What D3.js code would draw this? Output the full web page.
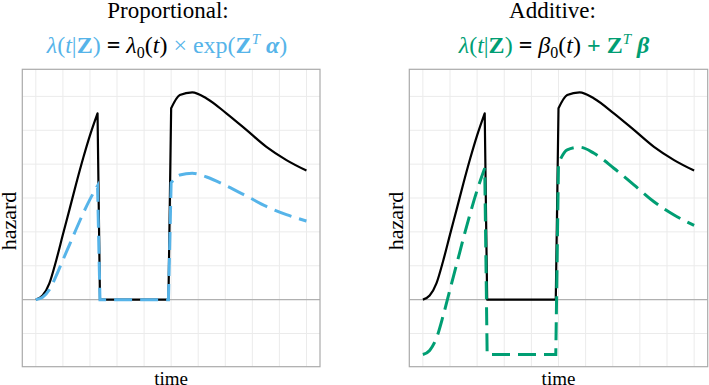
<!DOCTYPE html>
<html>
<head>
<meta charset="utf-8">
<script src="https://cdn.jsdelivr.net/npm/d3@7"></script>
<style>
  body { margin: 0; background: #fff; }
  text { font-family: "Liberation Serif", "Times New Roman", serif; }
</style>
</head>
<body>
<div id="chart"></div>
<script>
// Values (time in 0..10, hazard in grid units)
const tRise = [0, 0.25, 0.5, 0.75, 1.0, 1.25, 1.5, 1.75, 2.0, 2.28];
const baseRise = [0, 0.12, 0.48, 1.15, 1.92, 2.68, 3.45, 4.18, 4.85, 5.5];
const propRise = [0, 0.07, 0.29, 0.7, 1.17, 1.63, 2.1, 2.55, 2.96, 3.36];
const addRise = [-1.62, -1.5, -1.14, -0.47, 0.3, 1.06, 1.83, 2.56, 3.23, 3.88];

const tGap = [2.37, 4.9]; // hazard flat between these times
const baseGap = 0, propGap = 0, addGap = -1.62;

const tDecay = [5.0, 5.32, 5.78, 6.31, 7.04, 7.78, 8.52, 9.26, 10.0];
const baseDecay = [5.65, 6.04, 6.12, 5.94, 5.5, 5.01, 4.51, 4.12, 3.81];
const propDecay = [3.45, 3.68, 3.73, 3.62, 3.36, 3.06, 2.75, 2.51, 2.32];
const addDecay = [4.03, 4.42, 4.5, 4.32, 3.88, 3.39, 2.89, 2.5, 2.19];

const xTicks = [0, 1, 2, 3, 4, 5, 6, 7, 8, 9, 10];
const yTicks = [-1, 0, 1, 2, 3, 4, 5, 6];

const blue = "#56B4E9", green = "#009E73";

const W = 709, H = 385;
const panelTop = 69.3, panelBottom = 366.7;

const svg = d3.select("#chart").append("svg")
    .attr("width", W)
    .attr("height", H);

const y = d3.scaleLinear().domain([-1.98, 6.8]).range([panelBottom, panelTop]);

// builds one continuous path: smooth rise, straight drop / flat / jump, smooth decay
function hazardPath(x, rise, gapVal, decay) {
    const smooth = d3.line().x(d => x(d[0])).y(d => y(d[1])).curve(d3.curveMonotoneX);
    const straight = d3.line().x(d => x(d[0])).y(d => y(d[1]));
    const p1 = smooth(d3.zip(tRise, rise));
    const mid = [[tRise[tRise.length - 1], rise[rise.length - 1]], [tGap[0], gapVal], [tGap[1], gapVal], [tDecay[0], decay[0]]];
    const p2 = straight(mid).replace(/^M/, "L");
    const p3 = smooth(d3.zip(tDecay, decay)).replace(/^M/, "L");
    return p1 + p2 + p3;
}

function panel(opts) {
    const x = d3.scaleLinear().domain([-0.5, 10.5]).range([opts.left, opts.right]);
    const g = svg.append("g");

    // grid
    g.append("g").selectAll("line").data(xTicks).join("line")
        .attr("x1", d => x(d)).attr("x2", d => x(d))
        .attr("y1", panelTop).attr("y2", panelBottom)
        .attr("stroke", "#ebebeb").attr("stroke-width", 1);
    g.append("g").selectAll("line").data(yTicks.filter(d => d !== 0)).join("line")
        .attr("x1", opts.left).attr("x2", opts.right)
        .attr("y1", d => y(d)).attr("y2", d => y(d))
        .attr("stroke", "#ebebeb").attr("stroke-width", 1);

    // zero line
    g.append("line")
        .attr("x1", opts.left).attr("x2", opts.right)
        .attr("y1", y(0)).attr("y2", y(0))
        .attr("stroke", "#b0b0b0").attr("stroke-width", 1.3);

    // baseline hazard
    g.append("path")
        .attr("d", hazardPath(x, baseRise, baseGap, baseDecay))
        .attr("fill", "none").attr("stroke", "#000").attr("stroke-width", 2.2)
        .attr("stroke-linejoin", "round");

    // covariate hazard
    g.append("path")
        .attr("d", hazardPath(x, opts.rise, opts.gap, opts.decay))
        .attr("fill", "none").attr("stroke", opts.color).attr("stroke-width", 3)
        .attr("stroke-dasharray", "18,8");

    // border
    g.append("rect")
        .attr("x", opts.left).attr("y", panelTop)
        .attr("width", opts.right - opts.left).attr("height", panelBottom - panelTop)
        .attr("fill", "none").attr("stroke", "#aaaaaa").attr("stroke-width", 1.2);

    // axis titles
    svg.append("text")
        .attr("transform", `translate(${opts.left - 6.5},${(panelTop + panelBottom) / 2 + 3}) rotate(-90)`)
        .attr("text-anchor", "middle")
        .style("font-size", "22px")
        .text("hazard");
    svg.append("text")
        .attr("x", (opts.left + opts.right) / 2)
        .attr("y", 385)
        .attr("text-anchor", "middle")
        .style("font-size", "19px")
        .text("time");

    // title
    svg.append("text")
        .attr("x", opts.titleX).attr("y", 18)
        .attr("text-anchor", "middle")
        .style("font-size", "23px")
        .text(opts.title);

    const f = svg.append("text")
        .attr("x", opts.formulaX).attr("y", 52.5)
        .attr("text-anchor", "middle")
        .style("font-size", "24px");
    opts.formula.forEach(p => {
        const ts = f.append("tspan").text(p.s).attr("fill", p.c || "#000");
        if (p.i) ts.style("font-style", "italic");
        if (p.b) ts.style("font-weight", "bold");
        if (p.sub) ts.attr("dy", 5).style("font-size", "16px");
        if (p.sup) ts.attr("dy", -9).style("font-size", "15px");
        if (p.back) ts.attr("dy", p.back);
    });
}

panel({
    left: 22.3, right: 320, color: blue,
    rise: propRise, gap: propGap, decay: propDecay,
    title: "Proportional:", titleX: 168, formulaX: 167,
    formula: [
        { s: "λ", c: blue, i: 1 }, { s: "(", c: blue }, { s: "t", c: blue, i: 1 }, { s: "|", c: blue },
        { s: "Z", c: blue, b: 1 }, { s: ")", c: blue },
        { s: " = ", b: 1 },
        { s: "λ", i: 1 }, { s: "0", sub: 1 }, { s: "(", back: -5 }, { s: "t", i: 1 }, { s: ")" },
        { s: " × exp(", c: blue }, { s: "Z", c: blue, b: 1 }, { s: "T", c: blue, i: 1, sup: 1 },
        { s: " α", c: blue, b: 1, i: 1, back: 9 }, { s: ")", c: blue }
    ]
});

panel({
    left: 409.3, right: 707.7, color: green,
    rise: addRise, gap: addGap, decay: addDecay,
    title: "Additive:", titleX: 552.5, formulaX: 554,
    formula: [
        { s: "λ", c: green, i: 1 }, { s: "(", c: green }, { s: "t", c: green, i: 1 }, { s: "|", c: green },
        { s: "Z", c: green, b: 1 }, { s: ")", c: green },
        { s: " = ", b: 1 },
        { s: "β", i: 1 }, { s: "0", sub: 1 }, { s: "(", back: -5 }, { s: "t", i: 1 }, { s: ")" },
        { s: " + ", c: green, b: 1 }, { s: "Z", c: green, b: 1 }, { s: "T", c: green, i: 1, sup: 1 },
        { s: " β", c: green, b: 1, i: 1, back: 9 }
    ]
});
</script>
</body>
</html>
